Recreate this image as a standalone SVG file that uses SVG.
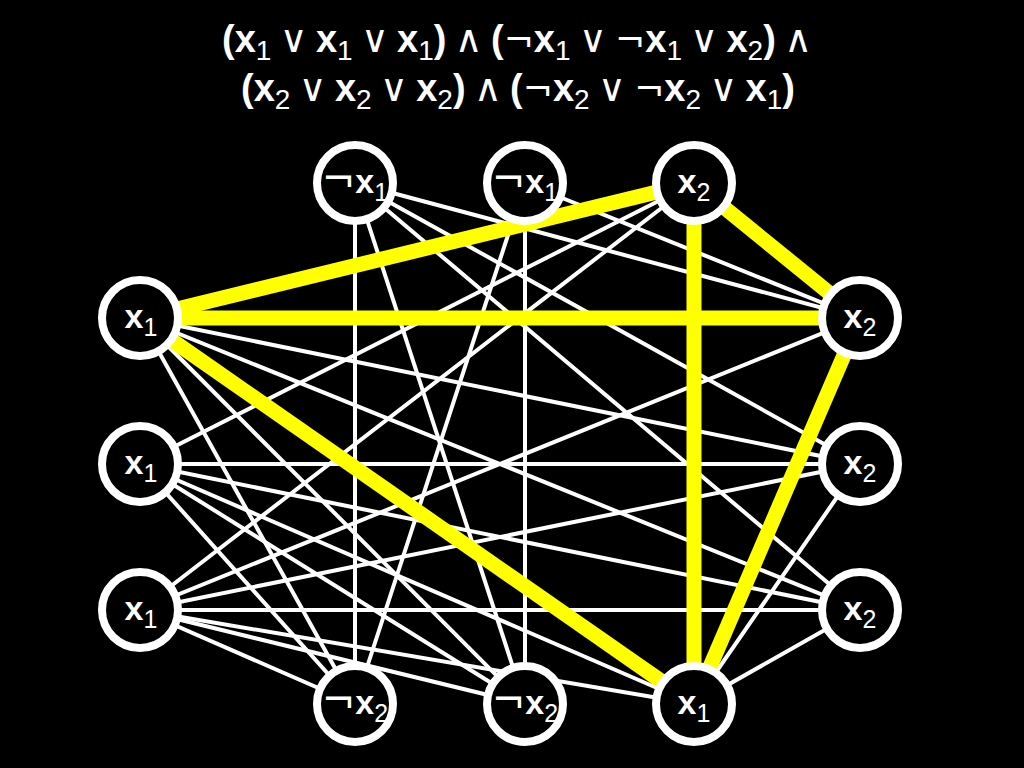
<svg xmlns="http://www.w3.org/2000/svg" width="1024" height="768" viewBox="0 0 1024 768">
<style>
.w{stroke:#fff;stroke-width:4;stroke-linecap:round}
.y{stroke:#ffff00;stroke-width:15;stroke-linecap:butt}
.n{fill:#000;stroke:#fff;stroke-width:8}
.t{font-family:"Liberation Sans",Arial,sans-serif;fill:#fff;text-anchor:middle}
.x{font-weight:bold}
.s{font-weight:normal}
.op{font-family:"DejaVu Sans","Liberation Sans",sans-serif;font-weight:normal}
.v{font-family:"DejaVu Sans","Liberation Sans",sans-serif;font-weight:normal;font-size:38px}
.ng{font-family:"DejaVu Sans","Liberation Sans",sans-serif;font-weight:normal;font-size:36px}
.sb{font-weight:normal;font-size:28px}
.sp{font-weight:normal;font-size:30px}
</style>
<rect width="1024" height="768" fill="#000"/>
<g id="title" class="t" font-size="38">
<text x="517" y="52"><tspan class="x">(x</tspan><tspan class="sb" dy="8">1</tspan><tspan class="sp" dy="-8"> </tspan><tspan class="v">∨</tspan><tspan class="sp"> </tspan><tspan class="x">x</tspan><tspan class="sb" dy="8">1</tspan><tspan class="sp" dy="-8"> </tspan><tspan class="v">∨</tspan><tspan class="sp"> </tspan><tspan class="x">x</tspan><tspan class="sb" dy="8">1</tspan><tspan class="x" dy="-8">)</tspan><tspan class="sp"> </tspan><tspan class="v">∧</tspan><tspan class="sp"> </tspan><tspan class="x">(</tspan><tspan class="ng">¬</tspan><tspan class="x">x</tspan><tspan class="sb" dy="8">1</tspan><tspan class="sp" dy="-8"> </tspan><tspan class="v">∨</tspan><tspan class="sp"> </tspan><tspan class="ng">¬</tspan><tspan class="x">x</tspan><tspan class="sb" dy="8">1</tspan><tspan class="sp" dy="-8"> </tspan><tspan class="v">∨</tspan><tspan class="sp"> </tspan><tspan class="x">x</tspan><tspan class="sb" dy="8">2</tspan><tspan class="x" dy="-8">)</tspan><tspan class="sp"> </tspan><tspan class="v">∧</tspan></text>
<text x="518" y="101"><tspan class="x">(x</tspan><tspan class="sb" dy="8">2</tspan><tspan class="sp" dy="-8"> </tspan><tspan class="v">∨</tspan><tspan class="sp"> </tspan><tspan class="x">x</tspan><tspan class="sb" dy="8">2</tspan><tspan class="sp" dy="-8"> </tspan><tspan class="v">∨</tspan><tspan class="sp"> </tspan><tspan class="x">x</tspan><tspan class="sb" dy="8">2</tspan><tspan class="x" dy="-8">)</tspan><tspan class="sp"> </tspan><tspan class="v">∧</tspan><tspan class="sp"> </tspan><tspan class="x">(</tspan><tspan class="ng">¬</tspan><tspan class="x">x</tspan><tspan class="sb" dy="8">2</tspan><tspan class="sp" dy="-8"> </tspan><tspan class="v">∨</tspan><tspan class="sp"> </tspan><tspan class="ng">¬</tspan><tspan class="x">x</tspan><tspan class="sb" dy="8">2</tspan><tspan class="sp" dy="-8"> </tspan><tspan class="v">∨</tspan><tspan class="sp"> </tspan><tspan class="x">x</tspan><tspan class="sb" dy="8">1</tspan><tspan class="x" dy="-8">)</tspan></text>
</g>
<g id="connectors">
<g class="w">
<line x1="140" y1="318" x2="860" y2="464"/>
<line x1="140" y1="318" x2="860" y2="610"/>
<line x1="140" y1="318" x2="355" y2="704"/>
<line x1="140" y1="318" x2="525" y2="704"/>
<line x1="140" y1="464" x2="694" y2="183"/>
<line x1="140" y1="464" x2="860" y2="464"/>
<line x1="140" y1="464" x2="860" y2="610"/>
<line x1="140" y1="464" x2="355" y2="704"/>
<line x1="140" y1="464" x2="525" y2="704"/>
<line x1="140" y1="464" x2="694" y2="704"/>
<line x1="140" y1="610" x2="694" y2="183"/>
<line x1="140" y1="610" x2="860" y2="318"/>
<line x1="140" y1="610" x2="860" y2="464"/>
<line x1="140" y1="610" x2="860" y2="610"/>
<line x1="140" y1="610" x2="355" y2="704"/>
<line x1="140" y1="610" x2="525" y2="704"/>
<line x1="140" y1="610" x2="694" y2="704"/>
<line x1="355" y1="183" x2="860" y2="318"/>
<line x1="355" y1="183" x2="860" y2="464"/>
<line x1="355" y1="183" x2="860" y2="610"/>
<line x1="355" y1="183" x2="355" y2="704"/>
<line x1="355" y1="183" x2="525" y2="704"/>
<line x1="525" y1="183" x2="860" y2="318"/>
<line x1="525" y1="183" x2="355" y2="704"/>
<line x1="525" y1="183" x2="525" y2="704"/>
<line x1="860" y1="464" x2="694" y2="704"/>
<line x1="860" y1="610" x2="694" y2="704"/>
</g>
<g class="y">
<line x1="140" y1="318" x2="694" y2="183"/>
<line x1="140" y1="318" x2="860" y2="318"/>
<line x1="140" y1="318" x2="694" y2="704"/>
<line x1="694" y1="183" x2="860" y2="318"/>
<line x1="694" y1="183" x2="694" y2="704"/>
<line x1="860" y1="318" x2="694" y2="704"/>
</g>
</g>
<g id="T1"><circle class="n" cx="355" cy="183" r="38"/><text class="t" x="355" y="193" font-size="34"><tspan class="op" font-size="40">¬</tspan><tspan class="x">x</tspan><tspan class="s" font-size="25" dy="8">1</tspan></text></g>
<g id="T2"><circle class="n" cx="525" cy="183" r="38"/><text class="t" x="525" y="193" font-size="34"><tspan class="op" font-size="40">¬</tspan><tspan class="x">x</tspan><tspan class="s" font-size="25" dy="8">1</tspan></text></g>
<g id="T3"><circle class="n" cx="694" cy="183" r="38"/><text class="t" x="694" y="193" font-size="34"><tspan class="x">x</tspan><tspan class="s" font-size="25" dy="8">2</tspan></text></g>
<g id="L1"><circle class="n" cx="140" cy="318" r="38"/><text class="t" x="141" y="328" font-size="34"><tspan class="x">x</tspan><tspan class="s" font-size="25" dy="8">1</tspan></text></g>
<g id="L2"><circle class="n" cx="140" cy="464" r="38"/><text class="t" x="141" y="474" font-size="34"><tspan class="x">x</tspan><tspan class="s" font-size="25" dy="8">1</tspan></text></g>
<g id="L3"><circle class="n" cx="140" cy="610" r="38"/><text class="t" x="141" y="620" font-size="34"><tspan class="x">x</tspan><tspan class="s" font-size="25" dy="8">1</tspan></text></g>
<g id="R1"><circle class="n" cx="860" cy="318" r="38"/><text class="t" x="860" y="328" font-size="34"><tspan class="x">x</tspan><tspan class="s" font-size="25" dy="8">2</tspan></text></g>
<g id="R2"><circle class="n" cx="860" cy="464" r="38"/><text class="t" x="860" y="474" font-size="34"><tspan class="x">x</tspan><tspan class="s" font-size="25" dy="8">2</tspan></text></g>
<g id="R3"><circle class="n" cx="860" cy="610" r="38"/><text class="t" x="860" y="620" font-size="34"><tspan class="x">x</tspan><tspan class="s" font-size="25" dy="8">2</tspan></text></g>
<g id="B1"><circle class="n" cx="355" cy="704" r="38"/><text class="t" x="355" y="714" font-size="34"><tspan class="op" font-size="40">¬</tspan><tspan class="x">x</tspan><tspan class="s" font-size="25" dy="8">2</tspan></text></g>
<g id="B2"><circle class="n" cx="525" cy="704" r="38"/><text class="t" x="525" y="714" font-size="34"><tspan class="op" font-size="40">¬</tspan><tspan class="x">x</tspan><tspan class="s" font-size="25" dy="8">2</tspan></text></g>
<g id="B3"><circle class="n" cx="694" cy="704" r="38"/><text class="t" x="694" y="714" font-size="34"><tspan class="x">x</tspan><tspan class="s" font-size="25" dy="8">1</tspan></text></g>
</svg>
